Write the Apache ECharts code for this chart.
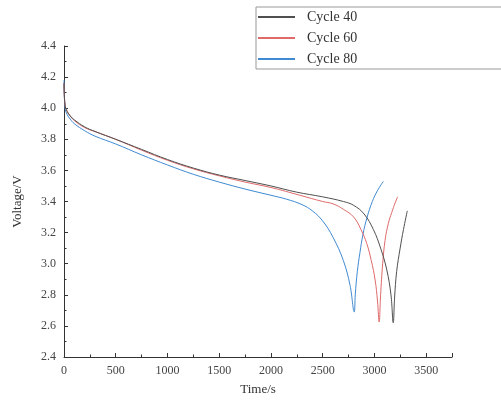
<!DOCTYPE html>
<html><head><meta charset="utf-8">
<script src="https://cdn.jsdelivr.net/npm/echarts@6/dist/echarts.min.js"></script>
<style>html,body{margin:0;padding:0;background:#fff}#c{width:501px;height:405px}</style>
</head><body><div id="c"></div>
<script>
const seriesNames = ['Cycle 40', 'Cycle 60', 'Cycle 80'];
const xTicks = [0, 500, 1000, 1500, 2000, 2500, 3000, 3500];
const yTicks = [2.4, 2.6, 2.8, 3.0, 3.2, 3.4, 3.6, 3.8, 4.0, 4.2, 4.4];

const time40 = [0, 10, 30, 60, 100, 200, 300, 500, 750, 1000, 1250, 1500, 1750, 2000, 2250, 2500, 2700, 2800, 2900, 2990, 3060, 3120, 3160, 3182, 3195, 3215, 3249, 3281, 3318];
const volt40 = [4.16, 4.02, 3.98, 3.95, 3.925, 3.88, 3.85, 3.80, 3.735, 3.67, 3.615, 3.57, 3.535, 3.50, 3.46, 3.43, 3.40, 3.375, 3.32, 3.22, 3.10, 2.96, 2.80, 2.62, 2.78, 2.95, 3.10, 3.22, 3.34];

const time60 = [0, 10, 30, 60, 100, 200, 300, 500, 750, 1000, 1250, 1500, 1750, 2000, 2280, 2500, 2600, 2700, 2800, 2870, 2926, 2970, 3007, 3030, 3046, 3060, 3080, 3103, 3135, 3168, 3200, 3225];
const volt60 = [4.16, 4.02, 3.98, 3.95, 3.92, 3.875, 3.85, 3.80, 3.73, 3.665, 3.61, 3.565, 3.525, 3.49, 3.44, 3.40, 3.385, 3.35, 3.30, 3.22, 3.13, 3.02, 2.895, 2.76, 2.625, 2.80, 3.00, 3.15, 3.26, 3.33, 3.39, 3.43];

const time80 = [0, 10, 30, 60, 100, 200, 300, 500, 750, 1000, 1250, 1500, 1750, 2000, 2150, 2300, 2400, 2500, 2600, 2700, 2765, 2805, 2815, 2835, 2860, 2890, 2930, 2980, 3030, 3087];
const volt80 = [4.18, 4.0, 3.96, 3.93, 3.90, 3.855, 3.82, 3.77, 3.70, 3.635, 3.575, 3.525, 3.48, 3.44, 3.415, 3.38, 3.34, 3.275, 3.17, 3.02, 2.86, 2.69, 2.80, 2.95, 3.07, 3.19, 3.30, 3.40, 3.47, 3.53];

const colors = ['#505050', '#e06a6a', '#3f8ad2'];
const pair = (t, v) => t.map((x, i) => [x, v[i]]);
const dataSets = [pair(time40, volt40), pair(time60, volt60), pair(time80, volt80)];

const font = '"Liberation Serif", "DejaVu Serif", serif';
const chart = echarts.init(document.getElementById('c'), null, {renderer: 'canvas'});
chart.setOption({
  animation: false,
  backgroundColor: '#fff',
  textStyle: {fontFamily: font},
  grid: {left: 64, right: 49, top: 46, bottom: 48, containLabel: false},
  legend: {
    orient: 'vertical', left: 256, top: 7,
    data: seriesNames,
    icon: 'rect', itemWidth: 37, itemHeight: 2, itemGap: 7,
    padding: [3, 146, 3, 2],
    borderColor: '#999', borderWidth: 1,
    textStyle: {fontFamily: font, fontSize: 14, color: '#333', padding: [0, 0, 0, 7]}
  },
  xAxis: {
    type: 'value', min: 0, max: 3750, interval: 500,
    name: 'Time/s', nameLocation: 'middle', nameGap: 26,
    nameTextStyle: {fontFamily: font, fontSize: 13, color: '#333'},
    axisLine: {show: true, lineStyle: {color: '#333', width: 1}},
    axisTick: {show: true, inside: true, length: 4, lineStyle: {color: '#333'}},
    minorTick: {show: true, splitNumber: 2, length: 2.5, lineStyle: {color: '#333'}},
    splitLine: {show: false},
    axisLabel: {fontFamily: font, fontSize: 12, color: '#444', margin: 8,
      formatter: v => (xTicks.indexOf(v) >= 0 ? String(v) : '')}
  },
  yAxis: {
    type: 'value', min: 2.4, max: 4.4, interval: 0.2,
    name: 'Voltage/V', nameLocation: 'middle', nameGap: 40, nameRotate: 90,
    nameTextStyle: {fontFamily: font, fontSize: 13, color: '#333'},
    axisLine: {show: true, lineStyle: {color: '#333', width: 1}},
    axisTick: {show: true, inside: true, length: 4, lineStyle: {color: '#333'}},
    minorTick: {show: true, splitNumber: 2, length: 2.5, lineStyle: {color: '#333'}},
    splitLine: {show: false},
    axisLabel: {fontFamily: font, fontSize: 12, color: '#444', margin: 8,
      formatter: v => {
        const t = yTicks.find(y => Math.abs(y - v) < 1e-6);
        return t === undefined ? '' : t.toFixed(1);
      }}
  },
  series: seriesNames.map((n, i) => ({
    name: n, type: 'line', data: dataSets[i],
    showSymbol: false, symbol: 'none',
    smooth: 0.4,
    lineStyle: {color: colors[i], width: 1},
    itemStyle: {color: colors[i]},
    z: 3 - i
  }))
});
</script></body></html>
